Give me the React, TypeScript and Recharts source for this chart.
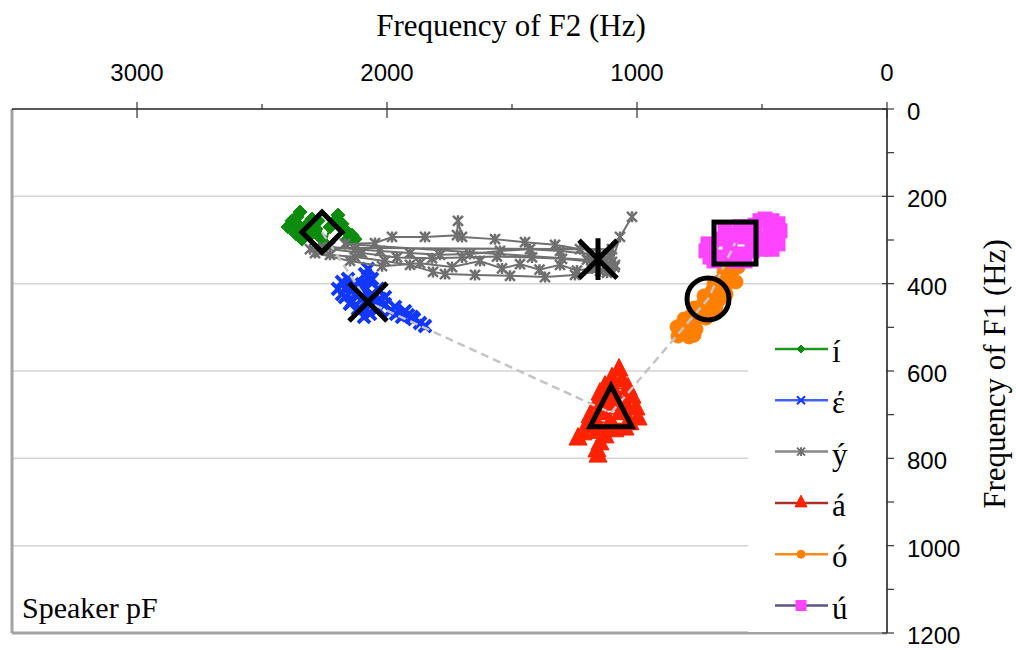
import React from "react";
import {
  ScatterChart,
  Scatter,
  XAxis,
  YAxis,
  ReferenceLine,
  Legend,
} from "recharts";

// vowel order: í, έ, ý, á, ó, ú  — values are [F2, F1] in Hz
const vowelLabels = ["í", "έ", "ý", "á", "ó", "ú"];

const iTrack: [number, number][] = [
  [2396, 270], [2380, 256], [2360, 247], [2348, 236], [2348, 270], [2364, 286],
  [2340, 298], [2308, 289], [2316, 263], [2300, 252], [2276, 256], [2284, 275],
  [2268, 293], [2248, 309], [2228, 270], [2208, 256], [2196, 243], [2180, 263],
  [2164, 279], [2140, 289], [2128, 298], [2156, 298],
];

const eTrack: [number, number][] = [
  [2196, 412], [2180, 396], [2156, 389], [2124, 401], [2140, 408], [2168, 431],
  [2140, 440], [2116, 424], [2100, 401], [2088, 378], [2076, 366], [2060, 389],
  [2036, 412], [2060, 424], [2076, 435], [2028, 435], [2048, 453], [2068, 469],
  [2092, 476], [2108, 458], [2008, 447], [1988, 463], [1964, 469], [1940, 476],
  [1916, 472], [1892, 481], [1868, 490], [1848, 497], [1900, 476], [1928, 463],
  [1968, 453], [2008, 431], [2036, 458], [2060, 446], [2084, 412], [2068, 394],
  [2100, 435], [2128, 424], [2148, 446], [2116, 458], [2168, 412], [2180, 424],
];

const yTrack: [number, number][] = [
  [2308, 321], [2228, 316], [2128, 321], [2028, 325], [1908, 330], [1788, 334],
  [1668, 332], [1548, 325], [1428, 321], [1308, 325], [1188, 332], [1108, 339],
  [1088, 357], [1148, 371], [1248, 380], [1368, 385], [1508, 382], [1648, 380],
  [1768, 378], [1816, 373], [1908, 357], [2008, 348], [2128, 339], [2228, 334],
  [2288, 330], [2148, 348], [2020, 360], [1868, 353], [1740, 362], [1628, 348],
  [1540, 365], [1468, 355], [1390, 368], [1308, 357], [1240, 370], [1180, 365],
  [1120, 375], [1090, 362], [1168, 353], [1128, 348], [2168, 309], [2048, 307],
  [1980, 293], [1848, 293], [1720, 289], [1716, 256], [1700, 293], [1568, 298],
  [1448, 305], [1328, 311], [1228, 321], [1200, 345], [1148, 334], [1100, 321],
  [2270, 318], [2100, 330], [1960, 340], [1820, 342], [1700, 340], [1560, 338],
  [1420, 340], [1300, 343], [1180, 350], [1100, 350], [1068, 293], [1020, 247],
];

const aTrack: [number, number][] = [
  [1072, 598], [1100, 618], [1060, 623], [1128, 637], [1036, 641], [1088, 653],
  [1148, 653], [1116, 660], [1020, 660], [1048, 676], [1108, 676], [1160, 676],
  [1004, 687], [1068, 698], [1140, 698], [1188, 705], [996, 710], [1028, 721],
  [1108, 721], [1168, 714], [1196, 728], [1048, 733], [1088, 737], [1156, 737],
  [1216, 744], [1236, 756], [1128, 751], [1148, 767], [1160, 783], [1156, 795],
];

const oTrack: [number, number][] = [
  [596, 362], [620, 371], [636, 380], [628, 394], [648, 389], [668, 394],
  [648, 412], [660, 408], [684, 412], [700, 417], [668, 435], [676, 426],
  [708, 431], [724, 440], [688, 458], [700, 447], [740, 449], [756, 458],
  [732, 463], [768, 469], [748, 476], [788, 476], [804, 485], [772, 485],
  [820, 495], [788, 499], [828, 504], [804, 513], [772, 518], [836, 520],
  [840, 499], [792, 522], [812, 481], [764, 504], [772, 456], [724, 479],
  [732, 428], [684, 451], [692, 401], [644, 424], [652, 373], [604, 396],
];

const uTrack: [number, number][] = [
  [724, 325], [716, 309], [708, 339], [692, 348], [668, 298], [648, 275],
  [620, 289], [588, 270], [568, 293], [548, 279], [528, 266], [508, 256],
  [488, 252], [460, 256], [436, 263], [428, 279], [444, 293], [468, 289],
  [436, 309], [460, 321], [488, 302], [516, 298], [540, 325], [508, 321],
  [588, 332], [628, 321], [660, 339], [608, 348], [568, 348],
];

const meanF2 = [2260, 2076, 1156, 1104, 716, 608];
const meanF1 = [282, 442, 344, 696, 435, 307];
const dashedOrder = [0, 1, 3, 4, 5];

const f2Ticks = [0, 500, 1000, 1500, 2000, 2500, 3000];
const f1Ticks = [0, 100, 200, 300, 400, 500, 600, 700, 800, 900, 1000, 1100, 1200];
const gridF1 = [200, 400, 600, 800, 1000];

const tracks = [iTrack, eTrack, yTrack, aTrack, oTrack, uTrack];
const kinds = ["diamond", "x", "star", "triangle", "circle", "square"];
const markColors = ["#0c8c0c", "#1238ff", "#707070", "#ff2200", "#ff8000", "#ff44ff"];
const legendLines = ["#1e961e", "#4262ff", "#888888", "#a8322a", "#ff8c1a", "#5e5480"];
const markSizes = [7, 6, 5, 9, 7, 7];
const markStroke = [2, 4, 2.5, 2, 2, 2];

const SERIF = "'Liberation Serif', 'Times New Roman', serif";
const SANS = "'Liberation Sans', Arial, sans-serif";

const toPts = (arr: [number, number][]) => arr.map(([f2, f1]) => ({ f2, f1 }));

const Mark = ({ kind, cx, cy, r, color, hollow, sw }: any) => {
  const fill = hollow ? "none" : color;
  const stroke = hollow ? "#000" : color;
  const w = sw || 2;
  if (kind === "diamond")
    return (
      <path
        d={`M${cx},${cy - r}L${cx + r},${cy}L${cx},${cy + r}L${cx - r},${cy}Z`}
        fill={fill}
        stroke={stroke}
        strokeWidth={hollow ? w : 1}
        strokeLinejoin="miter"
      />
    );
  if (kind === "x")
    return (
      <path
        d={`M${cx - r},${cy - r}L${cx + r},${cy + r}M${cx - r},${cy + r}L${cx + r},${cy - r}`}
        stroke={stroke}
        strokeWidth={w}
        fill="none"
      />
    );
  if (kind === "star")
    return (
      <path
        d={`M${cx - r},${cy - r}L${cx + r},${cy + r}M${cx - r},${cy + r}L${cx + r},${cy - r}M${cx},${cy - r * 1.1}L${cx},${cy + r * 1.1}`}
        stroke={stroke}
        strokeWidth={w}
        fill="none"
      />
    );
  if (kind === "triangle") {
    const h = r * 1.95;
    return (
      <path
        d={`M${cx},${cy - h * 0.66}L${cx + r},${cy + h * 0.34}L${cx - r},${cy + h * 0.34}Z`}
        fill={fill}
        stroke={stroke}
        strokeWidth={hollow ? w : 1}
        strokeLinejoin="miter"
      />
    );
  }
  if (kind === "circle")
    return <circle cx={cx} cy={cy} r={r} fill={fill} stroke={stroke} strokeWidth={hollow ? w : 1} />;
  return (
    <rect
      x={cx - r}
      y={cy - r}
      width={2 * r}
      height={2 * r}
      fill={fill}
      stroke={stroke}
      strokeWidth={hollow ? w : 1}
    />
  );
};

const F2Tick = (props: any) => {
  const { x, y, payload } = props;
  const major = payload.value % 1000 === 0;
  return (
    <g>
      <line x1={x} x2={x} y1={major ? y - 7 : y - 5} y2={major ? y + 9 : y} stroke="#333" strokeWidth={1.2} />
      {major && (
        <text x={x} y={y - 28} textAnchor="middle" fill="#000" fontFamily={SANS} fontSize={24}>
          {payload.value}
        </text>
      )}
    </g>
  );
};

const F1Tick = (props: any) => {
  const { x, y, payload } = props;
  const major = payload.value % 200 === 0;
  return (
    <g>
      <line x1={major ? x - 5 : x} x2={x + 7} y1={y} y2={y} stroke="#333" strokeWidth={1.2} />
      {major && (
        <text x={x + 20} y={y + 11} textAnchor="start" fill="#000" fontFamily={SANS} fontSize={24}>
          {payload.value}
        </text>
      )}
    </g>
  );
};

const LegendBox = () => (
  <div style={{ width: 138, height: 306, background: "#fff" }}>
    <svg width={138} height={306}>
      {vowelLabels.map((v, i) => {
        const cy = 23 + i * 51.3;
        return (
          <g key={v}>
            <line x1={27} x2={80} y1={cy} y2={cy} stroke={legendLines[i]} strokeWidth={2.5} />
            <Mark kind={kinds[i]} cx={53} cy={cy} r={i === 3 ? 6 : i === 5 ? 5 : 4} color={markColors[i]} sw={2} />
            <text x={84} y={cy + 13} fontFamily={SERIF} fontSize={31} fill="#000">
              {v}
            </text>
          </g>
        );
      })}
    </svg>
  </div>
);

const meanPts = meanF2.map((f2, i) => ({ f2, f1: meanF1[i], kind: kinds[i] }));
const dashedPts = dashedOrder.map((i) => ({ f2: meanF2[i], f1: meanF1[i] }));

const bigSize: Record<string, number> = {
  diamond: 20,
  x: 19,
  star: 19,
  triangle: 21,
  circle: 21,
  square: 21,
};

export default function App() {
  return (
    <div style={{ position: "absolute", left: 0, top: 0, width: 1016, height: 650, background: "#fff" }}>
      <ScatterChart width={1016} height={650} margin={{ top: 49, right: 29, bottom: 17, left: 12 }}>
        <XAxis
          type="number"
          dataKey="f2"
          orientation="top"
          reversed
          domain={[0, 3500]}
          ticks={f2Ticks}
          interval={0}
          height={60}
          tickSize={0}
          tickMargin={0}
          tickLine={false}
          tick={<F2Tick />}
          axisLine={{ stroke: "#222", strokeWidth: 1.6 }}
          label={() => (
            <text x={511} y={36} textAnchor="middle" fontFamily={SERIF} fontSize={31} fill="#000">
              Frequency of F2 (Hz)
            </text>
          )}
        />
        <YAxis
          type="number"
          dataKey="f1"
          orientation="right"
          reversed
          domain={[0, 1200]}
          ticks={f1Ticks}
          interval={0}
          width={100}
          tickSize={0}
          tickMargin={0}
          tickLine={false}
          tick={<F1Tick />}
          axisLine={{ stroke: "#222", strokeWidth: 1.6 }}
          label={() => (
            <text
              x={994}
              y={374}
              transform="rotate(-90, 994, 374)"
              textAnchor="middle"
              dominantBaseline="central"
              fontFamily={SERIF}
              fontSize={31}
              fill="#000"
            >
              Frequency of F1 (Hz)
            </text>
          )}
        />
        {gridF1.map((v) => (
          <ReferenceLine key={v} y={v} stroke="#d4d4d4" strokeWidth={1.5} />
        ))}
        <ReferenceLine x={3500} stroke="#a3a3a3" strokeWidth={3} />
        <ReferenceLine y={1200} stroke="#a3a3a3" strokeWidth={3} />
        {tracks.map((t, i) => (
          <Scatter
            key={vowelLabels[i]}
            name={vowelLabels[i]}
            data={toPts(t)}
            fill={markColors[i]}
            line={{ stroke: markColors[i], strokeWidth: 2 }}
            lineJointType="linear"
            shape={(p: any) => (
              <Mark kind={kinds[i]} cx={p.cx} cy={p.cy} r={markSizes[i]} color={markColors[i]} sw={markStroke[i]} />
            )}
            isAnimationActive={false}
          />
        ))}
        <Scatter
          name="path"
          data={dashedPts}
          fill="none"
          line={{ stroke: "#c4c4c4", strokeWidth: 2.5, strokeDasharray: "8 5" }}
          lineJointType="linear"
          shape={() => <g />}
          legendType="none"
          isAnimationActive={false}
        />
        <Scatter
          name="means"
          data={meanPts}
          fill="none"
          shape={(p: any) => (
            <Mark kind={p.payload.kind} cx={p.cx} cy={p.cy} r={bigSize[p.payload.kind]} hollow sw={5} />
          )}
          legendType="none"
          isAnimationActive={false}
        />
        <Legend
          layout="vertical"
          align="center"
          verticalAlign="middle"
          wrapperStyle={{ left: 748, top: 326, width: 138, height: 306 }}
          content={() => <LegendBox />}
        />
      </ScatterChart>
      <div
        style={{
          position: "absolute",
          left: 22,
          top: 590,
          fontFamily: SERIF,
          fontSize: 30,
          lineHeight: "36px",
          color: "#000",
        }}
      >
        Speaker pF
      </div>
    </div>
  );
}
